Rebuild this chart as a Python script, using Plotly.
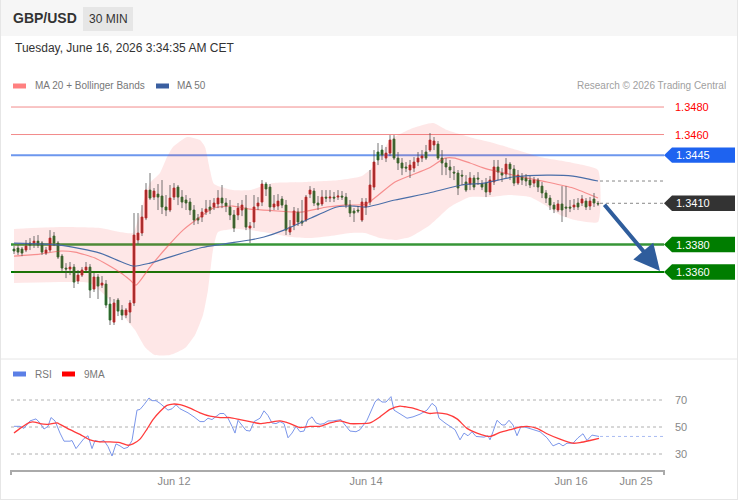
import plotly.graph_objects as go

W, H = 738, 500
def px(x): return x / W
def py(y): return 1 - y / H

# ---------------- data ----------------
opens = [1.33767,1.33775,1.33767,1.3376,1.33811,1.33811,1.33825,1.33811,1.33738,1.3376,
1.33862,1.33811,1.33716,1.33629,1.33622,1.33636,1.33535,1.33578,1.33615,1.33636,
1.33476,1.33564,1.33505,1.33513,1.33367,1.33236,1.33396,1.33324,1.33287,1.33309,
1.33375,1.33833,1.33884,1.33993,1.34196,1.34145,1.34167,1.34153,1.34073,1.34051,
1.34145,1.34218,1.34145,1.34124,1.34109,1.34051,1.33993,1.34,1.34036,1.34073,
1.34073,1.34095,1.34138,1.34102,1.34073,1.34015,1.34015,1.34051,1.34065,1.3392,
1.33964,1.3408,1.34109,1.3424,1.34218,1.34073,1.3408,1.34131,1.34087,1.33891,
1.33942,1.34036,1.33971,1.33978,1.34167,1.34189,1.34102,1.34095,1.34145,1.34138,
1.34145,1.34145,1.34153,1.34145,1.34087,1.34044,1.34051,1.33978,1.34073,1.34109,
1.34218,1.34473,1.34487,1.34429,1.34465,1.34567,1.34429,1.34393,1.34364,1.34342,
1.34356,1.344,1.34429,1.34473,1.34487,1.34524,1.34531,1.34429,1.34393,1.34364,
1.34327,1.3432,1.34305,1.34255,1.3424,1.34284,1.34284,1.3424,1.34247,1.34182,
1.34255,1.34364,1.3432,1.34313,1.34385,1.34349,1.34247,1.34291,1.34284,1.34269,
1.34247,1.34269,1.34225,1.34175,1.34138,1.34087,1.34051,1.34095,1.34073,1.34073,
1.34073,1.34102,1.34102,1.34116,1.3408,1.34131,1.3410]
closes = [1.33753,1.33745,1.33738,1.33789,1.33796,1.33825,1.33796,1.33745,1.3376,1.33847,
1.33811,1.33709,1.33629,1.33622,1.33636,1.33527,1.33578,1.33615,1.33636,1.33469,
1.33564,1.33498,1.3352,1.3336,1.33251,1.33375,1.33316,1.33287,1.33324,1.33375,
1.33869,1.33884,1.34,1.34196,1.34138,1.34189,1.34145,1.34073,1.34051,1.34138,
1.34211,1.34145,1.34109,1.34102,1.34051,1.33978,1.33978,1.34036,1.34058,1.34051,
1.34102,1.34138,1.34102,1.3408,1.34015,1.3392,1.34065,1.34087,1.33927,1.33935,
1.34073,1.34102,1.3424,1.34204,1.34073,1.34095,1.34116,1.34087,1.33905,1.33927,
1.34044,1.33964,1.33956,1.34145,1.34196,1.34102,1.34087,1.34145,1.34138,1.34145,
1.34138,1.34153,1.34145,1.34087,1.34029,1.34029,1.34044,1.34109,1.34109,1.34233,
1.344,1.34415,1.34451,1.34465,1.3456,1.34429,1.34393,1.34356,1.34356,1.34378,
1.344,1.34429,1.34444,1.34429,1.3456,1.34553,1.34429,1.34393,1.34364,1.34342,
1.3432,1.34211,1.34298,1.34196,1.34284,1.34218,1.34276,1.34218,1.34182,1.34269,
1.34364,1.34327,1.34305,1.34385,1.34349,1.34247,1.34305,1.34269,1.34262,1.34233,
1.34269,1.34218,1.34175,1.34138,1.34087,1.34058,1.34095,1.34051,1.34065,1.34065,
1.34087,1.34073,1.34131,1.34073,1.34116,1.34102,1.34095]
highs = [1.33789,1.33796,1.33782,1.33833,1.33847,1.33862,1.33869,1.33825,1.33782,1.33905,
1.33891,1.33825,1.33731,1.33665,1.33673,1.33658,1.33615,1.33636,1.33673,1.33658,
1.33593,1.33585,1.33571,1.33542,1.33418,1.33404,1.33411,1.3336,1.33338,1.33396,
1.34029,1.34029,1.34087,1.34247,1.3432,1.34211,1.3424,1.34269,1.3416,1.34233,
1.34247,1.34233,1.34196,1.3416,1.34138,1.34087,1.34022,1.34065,1.34124,1.34124,
1.34138,1.34196,1.34233,1.34138,1.34124,1.34051,1.34102,1.34124,1.3416,1.33964,
1.3416,1.34145,1.34269,1.34255,1.3424,1.3416,1.34167,1.34153,1.34124,1.33978,
1.34073,1.34065,1.34124,1.3416,1.34225,1.34211,1.34153,1.34196,1.34196,1.34196,
1.34182,1.34196,1.34189,1.34175,1.34124,1.34065,1.3408,1.34138,1.34138,1.34342,
1.34487,1.34538,1.34524,1.34509,1.34596,1.34596,1.34473,1.34429,1.344,1.34415,
1.34436,1.34473,1.34487,1.34524,1.34611,1.34582,1.34553,1.34487,1.34429,1.34415,
1.34371,1.34342,1.34342,1.34305,1.34327,1.34305,1.34327,1.34269,1.34284,1.34298,
1.34415,1.34415,1.34356,1.34429,1.344,1.34378,1.34342,1.3432,1.34313,1.34298,
1.34291,1.34284,1.34255,1.34196,1.3416,1.34109,1.34124,1.34225,1.34225,1.34124,
1.34131,1.34138,1.3416,1.34138,1.34145,1.34175,1.34116]
lows = [1.33731,1.33724,1.33716,1.33745,1.3376,1.33775,1.33775,1.33724,1.33724,1.33745,
1.33789,1.33695,1.33607,1.33556,1.33578,1.33484,1.33513,1.33564,1.336,1.33411,
1.33455,1.33404,1.33484,1.33338,1.33215,1.33215,1.3328,1.33251,1.33265,1.33229,
1.33353,1.33804,1.33862,1.33978,1.34124,1.34124,1.34051,1.34022,1.34007,1.34036,
1.34124,1.34087,1.34065,1.34051,1.34015,1.33942,1.33949,1.33964,1.34015,1.34022,
1.34051,1.34065,1.34065,1.34036,1.33978,1.33891,1.33978,1.34007,1.33905,1.33811,
1.3392,1.34051,1.3408,1.34153,1.34036,1.34051,1.34051,1.34065,1.33869,1.33869,
1.33905,1.33935,1.33935,1.33964,1.34138,1.3408,1.34051,1.3408,1.34109,1.34109,
1.34109,1.34124,1.34124,1.34065,1.34,1.33964,1.34029,1.33964,1.34015,1.34087,
1.34196,1.34378,1.34415,1.344,1.34444,1.34415,1.34342,1.34305,1.34327,1.34284,
1.34327,1.34371,1.344,1.34415,1.34473,1.34487,1.34415,1.34305,1.34305,1.34284,
1.34269,1.3416,1.34233,1.34182,1.34196,1.34196,1.34233,1.34196,1.34145,1.3416,
1.34233,1.34269,1.34255,1.34284,1.34269,1.34225,1.34233,1.34233,1.34225,1.34211,
1.34218,1.34182,1.34138,1.34102,1.34051,1.34029,1.34036,1.33964,1.34,1.34036,
1.34051,1.34051,1.3408,1.34051,1.34051,1.34073,1.3408]

ma20_idx = [0, 6.5, 11.75, 15.25, 20.25, 23.5, 26.75, 29, 30.5, 34, 38.25, 42.25, 46.5, 49.75,
            54.75, 59, 65.75, 71.75, 78.25, 82.5, 88, 95.25, 103.75, 107.75, 110.25, 114,
            117.5, 124.75, 133.25, 139.75, 146]
ma20 = [1.33716, 1.33731, 1.33753, 1.33745, 1.33702, 1.33651, 1.33593, 1.33542, 1.33505,
        1.33636, 1.33782, 1.33905, 1.34, 1.34065, 1.3408, 1.34058, 1.34044, 1.34036, 1.34073,
        1.34087, 1.34095, 1.34255, 1.34356, 1.34429, 1.34429, 1.34393, 1.34356, 1.34305,
        1.34255, 1.34211, 1.34138]

ma50_idx = [0, 11.5, 21.5, 29.75, 34, 46.5, 59, 62.5, 67.5, 74.25, 80.75, 85, 88, 95.25,
            103.75, 112, 117.5, 124.75, 133.25, 139.75, 146]
ma50 = [1.33811, 1.33796, 1.33738, 1.33644, 1.33665, 1.33775, 1.33833, 1.33855, 1.33905,
        1.33993, 1.34073, 1.3408, 1.34073, 1.34124, 1.34175, 1.34233, 1.34247, 1.34291,
        1.34305, 1.34298, 1.34262]

bb_up_idx = [0, 11.5, 21.5, 26.5, 29.75, 31.5, 34, 36.5, 38.25, 39.75, 43.25, 46.5, 47.75,
             49, 50, 54.75, 59, 64.75, 73.25, 81.5, 87, 90.25, 94, 99.75, 104.75, 108.25,
             114.75, 119, 123.25, 131.5, 139.75, 146]
bb_up = [1.33913, 1.33927, 1.3392, 1.33891, 1.33884, 1.34029, 1.34247, 1.3432, 1.34436,
         1.34509, 1.34582, 1.3456, 1.34509, 1.34342, 1.3424, 1.34196, 1.34196, 1.34247,
         1.34255, 1.34269, 1.34298, 1.34378, 1.3456, 1.34647, 1.34684, 1.34633, 1.34575,
         1.34545, 1.34509, 1.34436, 1.34393, 1.34342]

bb_lo_idx = [0, 11.5, 19, 24, 27.75, 30.25, 32.75, 35.25, 39, 42.75, 45.25, 47.25, 48.5,
             49.75, 51, 55.25, 59, 64, 69, 74, 79, 84, 87.75, 91.5, 95.25, 99, 104, 109,
             114, 119, 124, 129, 132.75, 136.5, 140.25, 146]
bb_lo = [1.3352, 1.33527, 1.3352, 1.33396, 1.33265, 1.33178, 1.33054, 1.32996, 1.32996,
         1.33047, 1.33142, 1.33287, 1.33469, 1.3376, 1.33891, 1.33913, 1.33905, 1.33884,
         1.33855, 1.33847, 1.33862, 1.33884, 1.33884, 1.33847, 1.33833, 1.33855, 1.33942,
         1.34073, 1.34145, 1.34145, 1.3416, 1.34145, 1.34087, 1.34015, 1.33978, 1.33964]

rsi_idx = [0, 1.5, 2.5, 4, 5.5, 6.5, 7.5, 8.5, 9.25, 10.25, 11.5, 12.5, 14, 14.5, 15.5, 16.5,
           17.5, 18.5, 19.5, 20.25, 21.5, 22.5, 23.5, 24.5, 25.5, 26.5, 27.5, 28.5, 29.5,
           30.75, 31.5, 32.5, 33.75, 34.5, 35.5, 36.5, 37.5, 38.5, 39.5, 40.5, 41.5, 43.5,
           45, 46.5, 47.5, 48.5, 49.5, 51.5, 52.5, 53.5, 54.5, 55.25, 56, 57, 58, 59, 60,
           61.5, 62.5, 63.5, 64.5, 65.5, 66.5, 67.5, 68.5, 69.5, 70.5, 71.5, 72.5, 73.5,
           74.5, 75.5, 76.5, 77.5, 78.5, 79.75, 81.75, 82.75, 84, 85.5, 86.5, 88.25, 90.25,
           91, 92, 93, 94.25, 95, 96.5, 98.25, 99.75, 101.5, 103.25, 104.5, 105.5, 106.25,
           107.75, 109, 110.25, 111.5, 112.5, 113.5, 114.5, 115.5, 117.5, 118.5, 119,
           119.75, 120.75, 122, 122.75, 123.75, 124.75, 125.75, 126.75, 128.25, 129.75,
           131.5, 133.25, 134.75, 136.25, 137.25, 138.25, 139.75, 141, 142.25, 143.25,
           144.5, 146.25]
rsi = [50.5, 50.5, 49, 54.5, 56, 53, 48.5, 50.5, 57, 54.5, 45.5, 39.5, 39.5, 40, 34, 37.5,
       41.5, 43.5, 34, 40, 39, 40, 35.5, 28.5, 37.5, 36, 34, 35, 40,
       62.5, 63, 66.5, 71.5, 69.5, 69.5, 67.5, 65, 62.5, 63.5, 66.5, 63.5, 60.5,
       57.5, 54, 54, 56.5, 55.5, 60, 60, 56.5, 50.5, 45.5, 55, 51.5, 47.5, 47, 54,
       56.5, 62, 58.5, 53, 52.5, 54, 52.5, 42, 45.5, 50.5, 46.5, 47, 55,
       57.5, 53, 52, 52.5, 54.5, 54.5, 55.5, 51.5, 47, 46.5, 48, 55, 68.5,
       71, 68.5, 68.5, 72.5, 62.5, 60, 56.5, 57.5, 59.5, 62.5, 67.5, 65, 56.5,
       53, 50.5, 48, 40.5, 45.5, 43.5, 46.5, 43, 42.5, 43.5, 40.5,
       46.5, 55, 51.5, 51.5, 55, 51.5, 43.5, 50.5, 49.5, 48,
       46.5, 42, 36, 38, 36, 38, 38, 42, 45, 40,
       44, 43]

ma9_idx = [0, 1.5, 4, 5.5, 6.5, 8.5, 10.75, 11.5, 14, 16.5, 19, 21.5, 24, 26.5, 28.5, 29.75,
           31.5, 33.25, 34.75, 36.5, 38.25, 39.75, 41.5, 44, 46.5, 49, 51.5, 54, 56.5, 59,
           61.5, 64, 66.5, 69, 71.5, 74, 76.5, 79, 81.5, 84, 86.5, 89, 91.5, 94, 96.5,
           97.75, 99.75, 102.25, 104, 105.75, 108.25, 110.75, 113.25, 115.75, 119, 121.5,
           124, 126.5, 128.25, 130.75, 133.25, 136.5, 139.75, 141.5, 144, 146.25]
ma9 = [45.5, 49, 53.5, 53.5, 52.5, 52, 53, 52, 48, 44.5, 40.5, 39, 39, 38.5, 36.5, 37.5,
       41, 48.5, 55.5, 61.5, 66, 67, 66.5, 64, 60.5, 58, 57, 57, 55.5, 54,
       52.5, 53.5, 54.5, 52.5, 49.5, 50.5, 50.5, 53, 54.5, 52.5, 52.5, 53, 57.5, 63, 65.5,
       65, 64, 61.5, 60, 60.5, 59.5, 56, 49, 45.5, 43, 46,
       48, 50, 50.5, 49, 45, 41, 38, 38.5, 40, 41.5]

resistances = [1.3480, 1.3460]
pivot = 1.3445
last_price = 1.3410
supports = [1.3380, 1.3360]
rsi_levels = [70, 50, 30]
tick_pos = [40, 88, 139.25, 155.5]
tick_labels = ["Jun 12", "Jun 14", "Jun 16", "Jun 25"]

# ---------------- figure ----------------
FONT = "Liberation Sans, Arial, sans-serif"
RED = "#e31b1b"
GREEN = "#1f7a1f"
X0, X1 = 11, 664

fig = go.Figure()

# Bollinger band fill
fig.add_trace(go.Scatter(
    x=bb_up_idx + bb_lo_idx[::-1], y=bb_up + bb_lo[::-1],
    fill="toself", fillcolor="rgba(245,60,60,0.12)", line=dict(width=0, shape="spline", smoothing=0.5),
    mode="lines", hoverinfo="skip", showlegend=False, xaxis="x", yaxis="y"))
# MA lines
fig.add_trace(go.Scatter(x=ma20_idx, y=ma20, mode="lines",
    line=dict(color="rgba(240,70,70,0.55)", width=1.2, shape="spline", smoothing=0.6),
    showlegend=False, xaxis="x", yaxis="y"))
fig.add_trace(go.Scatter(x=ma50_idx, y=ma50, mode="lines",
    line=dict(color="#4a6ea8", width=1.2, shape="spline", smoothing=0.6),
    showlegend=False, xaxis="x", yaxis="y"))

# wicks
n = len(opens)
idx = list(range(n))
wx, wy = [], []
for i in idx:
    wx += [i, i, None]
    wy += [highs[i], lows[i], None]
fig.add_trace(go.Scatter(x=wx, y=wy, mode="lines", line=dict(color="rgba(70,70,70,0.75)", width=1),
                         showlegend=False, hoverinfo="skip", xaxis="x", yaxis="y"))
# bodies
body_hi = [max(o, c) for o, c in zip(opens, closes)]
body_lo = [min(o, c) for o, c in zip(opens, closes)]
fig.add_trace(go.Candlestick(
    x=idx, open=opens, close=closes, high=body_hi, low=body_lo,
    increasing=dict(fillcolor=RED, line=dict(color=RED, width=0.8)),
    decreasing=dict(fillcolor=GREEN, line=dict(color=GREEN, width=0.8)),
    showlegend=False, xaxis="x", yaxis="y"))

# RSI panel
fig.add_trace(go.Scatter(x=rsi_idx, y=rsi, mode="lines",
    line=dict(color="#7b96ea", width=1.0), showlegend=False, xaxis="x2", yaxis="y2"))
fig.add_trace(go.Scatter(x=ma9_idx, y=ma9, mode="lines",
    line=dict(color="#ff3b3b", width=1.3, shape="spline", smoothing=0.6),
    showlegend=False, xaxis="x2", yaxis="y2"))

shapes = []
annotations = []

# backgrounds / frame
shapes.append(dict(type="rect", xref="paper", yref="paper", x0=0, x1=1, y0=py(36), y1=1,
                   fillcolor="#f6f6f6", line=dict(width=0), layer="below"))
shapes.append(dict(type="rect", xref="paper", yref="paper", x0=px(83), x1=px(133), y0=py(31), y1=py(7),
                   fillcolor="#e6e6e6", line=dict(width=0), layer="below"))
for (a, b, c, d) in [(0.5, 0, 0.5, 500), (737.5, 0, 737.5, 500), (0, 499.5, 738, 499.5), (0, 359, 738, 359)]:
    shapes.append(dict(type="line", xref="paper", yref="paper", x0=px(a), y0=py(b), x1=px(c), y1=py(d),
                       line=dict(color="#e6e6e6", width=1)))

def hline(val, color, width, dash="solid", x0=X0, x1=X1, yref="y"):
    shapes.append(dict(type="line", xref="paper", yref=yref, x0=px(x0), x1=px(x1), y0=val, y1=val,
                       line=dict(color=color, width=width, dash=dash), layer="below"))

def tag(val, color, text):
    h = 0.00056
    xt, xb, xr = px(664), px(672), px(735)
    shapes.append(dict(type="path", xref="paper", yref="y",
                       path=f"M {xt},{val} L {xb},{val+h} L {xr},{val+h} L {xr},{val-h} L {xb},{val-h} Z",
                       fillcolor=color, line=dict(width=0)))
    annotations.append(dict(x=px(674), y=val, xref="paper", yref="y", text=text, showarrow=False,
                            xanchor="left", yanchor="middle", font=dict(color="white", size=11, family=FONT)))

for r in resistances:
    hline(r, "#f28b8b", 1)
    annotations.append(dict(x=px(673), y=r, xref="paper", yref="y", text=f"{r:.4f}", showarrow=False,
                            xanchor="left", yanchor="middle", font=dict(color="#ff0000", size=11, family=FONT)))
hline(pivot, "#6d97ee", 2)
tag(pivot, "#1e63f0", f"{pivot:.4f}")
hline(supports[0], "rgba(20,130,20,0.85)", 2.5)
hline(supports[1], "#007a00", 2)
for s in supports:
    tag(s, "#007d00", f"{s:.4f}")
hline(last_price, "#888888", 1, dash="dot", x0=600, x1=664)
hline(ma50[-1], "#888888", 1, dash="dot", x0=600, x1=664)
tag(last_price, "#333333", f"{last_price:.4f}")

# arrow
annotations.append(dict(x=161.5, y=supports[1] + 0.00008, xref="x", yref="y",
                        ax=147.3, ay=last_price, axref="x", ayref="y",
                        showarrow=True, arrowhead=2, arrowsize=1.3, arrowwidth=4, arrowcolor="#2f5d9c", text=""))

# RSI grid
for lv in rsi_levels:
    hline(lv, "#b0b0b0", 1, dash="dot", yref="y2")
    annotations.append(dict(x=px(673), y=lv, xref="paper", yref="y2", text=str(lv), showarrow=False,
                            xanchor="left", yanchor="middle", font=dict(color="#888888", size=11, family=FONT)))
hline(rsi[-1], "#a9bcf2", 1, dash="dot", x0=600, x1=664, yref="y2")

# x axis end ticks
for xx in (X0, X1):
    shapes.append(dict(type="line", xref="paper", yref="paper", x0=px(xx), x1=px(xx), y0=py(470), y1=py(475),
                       line=dict(color="#aaaaaa", width=2)))

# header texts
annotations += [
    dict(x=px(11), y=py(18), xref="paper", yref="paper", text="<b>GBP/USD</b>", showarrow=False,
         xanchor="left", yanchor="middle", font=dict(size=14, color="#333333", family=FONT)),
    dict(x=px(108), y=py(19), xref="paper", yref="paper", text="30 MIN", showarrow=False,
         xanchor="center", yanchor="middle", font=dict(size=12, color="#333333", family=FONT)),
    dict(x=px(13), y=py(48), xref="paper", yref="paper", text="Tuesday, June 16, 2026 3:34:35 AM CET",
         showarrow=False, xanchor="left", yanchor="middle", font=dict(size=12, color="#333333", family=FONT)),
    dict(x=px(33), y=py(86), xref="paper", yref="paper", text="MA 20 + Bollinger Bands", showarrow=False,
         xanchor="left", yanchor="middle", font=dict(size=10, color="#777777", family=FONT)),
    dict(x=px(175), y=py(86), xref="paper", yref="paper", text="MA 50", showarrow=False,
         xanchor="left", yanchor="middle", font=dict(size=10, color="#777777", family=FONT)),
    dict(x=px(728), y=py(86), xref="paper", yref="paper", text="Research © 2026 Trading Central", showarrow=False,
         xanchor="right", yanchor="middle", font=dict(size=10, color="#a0a0a0", family=FONT)),
    dict(x=px(33), y=py(374), xref="paper", yref="paper", text="RSI", showarrow=False,
         xanchor="left", yanchor="middle", font=dict(size=10, color="#777777", family=FONT)),
    dict(x=px(82), y=py(374), xref="paper", yref="paper", text="9MA", showarrow=False,
         xanchor="left", yanchor="middle", font=dict(size=10, color="#777777", family=FONT)),
]
for (xa, ya, col) in [(13, 86, "#ff8080"), (156, 86, "#3a5fa0"), (13, 374, "#5b7fe6"), (62, 374, "#ff0000")]:
    shapes.append(dict(type="rect", xref="paper", yref="paper", x0=px(xa), x1=px(xa + 13),
                       y0=py(ya + 2.5), y1=py(ya - 2.5), fillcolor=col, line=dict(width=0)))

fig.update_layout(
    width=W, height=H, margin=dict(l=0, r=0, t=0, b=0),
    paper_bgcolor="white", plot_bgcolor="rgba(0,0,0,0)",
    showlegend=False, font=dict(family=FONT),
    shapes=shapes, annotations=annotations,
    xaxis=dict(domain=[px(X0), px(X1)], range=[-0.75, 162.5], showgrid=False, zeroline=False,
               showticklabels=False, rangeslider=dict(visible=False), anchor="y", fixedrange=True),
    xaxis2=dict(domain=[px(X0), px(X1)], range=[-0.75, 162.5], showgrid=False, zeroline=False,
                matches="x", anchor="y2", tickvals=tick_pos, ticktext=tick_labels, ticks="",
                showline=True, linecolor="#aaaaaa", linewidth=2,
                tickfont=dict(size=11, color="#888888", family=FONT)),
    yaxis=dict(domain=[py(358), py(60)], range=[1.32975, 1.35142], visible=False, fixedrange=True),
    yaxis2=dict(domain=[py(470), py(384)], range=[18.15, 81.85], visible=False, fixedrange=True),
)

fig.write_html("out.html")
